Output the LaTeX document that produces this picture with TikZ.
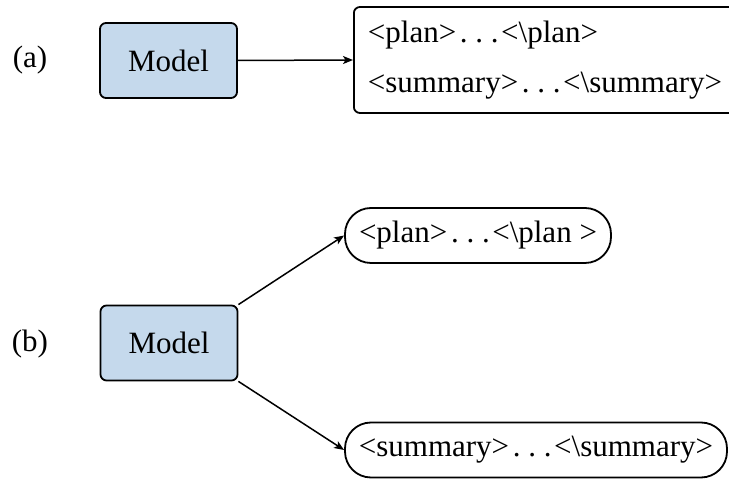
\documentclass[tikz,border=0pt]{standalone}
\usepackage{fontspec}
\setmainfont{Liberation Serif}
\usepackage{tikz}
\usetikzlibrary{positioning,arrows.meta}
\definecolor{cmodel}{RGB}{197,217,236}
\newcommand\tdots{\kern0.12em.\kern0.25em.\kern0.25em.\kern0.08em}
\tikzset{
  model/.style={draw=black, fill=cmodel, rounded corners=6pt, line width=1.8pt,
                minimum width=137pt, minimum height=75pt, font=\fontsize{31}{37}\selectfont},
  outbox/.style={draw=black, rounded corners=6pt, line width=1.8pt, align=left,
                 text width=354pt, inner xsep=14pt, minimum height=106pt,
                 font=\fontsize{31}{50}\selectfont},
  pill/.style={draw=black, rounded corners=26pt, line width=1.8pt, minimum height=55pt,
               inner sep=0pt, font=\fontsize{31}{37}\selectfont},
  lab/.style={font=\fontsize{31}{37}\selectfont},
  flow/.style={-{Stealth[length=10pt,width=8pt,inset=2.5pt]}, line width=1.5pt},
}
\begin{document}
\begin{tikzpicture}[x=1pt, y=1pt]
\useasboundingbox (0,0) rectangle (729,479);
% (a) one output holding both parts
\node[lab] (laba) at (30,419) {(a)};
\node[model] (ma) at (168.5,418.5) {Model};
\node[outbox, anchor=west] (outa) at (353,419)
  {<plan>\tdots<\textbackslash plan>\\<summary>\tdots<\textbackslash summary>};
\draw[flow] (ma.east) -- (outa.west);
% (b) two separate outputs
\node[lab] (labb) at (30,135) {(b)};
\node[model] (mb) at (169,136) {Model};
\node[pill, minimum width=266pt] (plan) at (478,243.5) {<plan>\tdots<\textbackslash plan >};
\node[pill, minimum width=382pt] (summ) at (536,29) {<summary>\tdots<\textbackslash summary>};
\draw[flow] (mb.north east) -- (plan.west);
\draw[flow] (mb.south east) -- (summ.west);
\end{tikzpicture}
\end{document}
